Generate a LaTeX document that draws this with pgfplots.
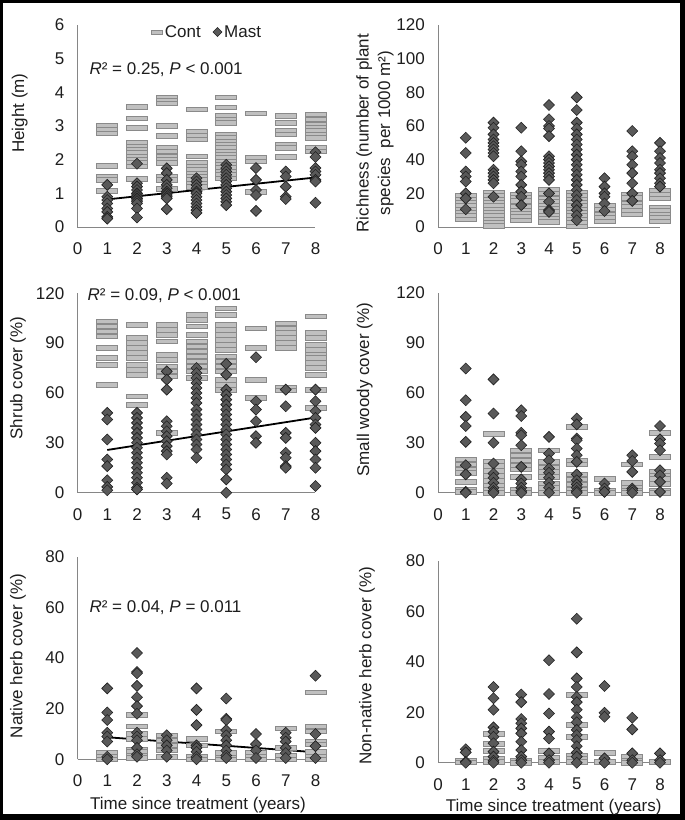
\documentclass[border=0pt]{standalone}
\usepackage{fontspec}
\setmainfont{Liberation Sans}
\usepackage{pgfplots}
\pgfplotsset{compat=1.18}
\definecolor{barfill}{HTML}{C0C0C0}
\definecolor{barline}{HTML}{8A8A8A}
\definecolor{dfill}{HTML}{595959}
\definecolor{dline}{HTML}{202020}
\definecolor{axisgray}{HTML}{868686}
\definecolor{txt}{HTML}{1E1E1E}
\newcommand\fs{\fontsize{17}{20}\selectfont}
\pgfdeclareplotmark{cbar}{\pgfpathrectangle{\pgfqpoint{-10.5pt}{-2.3pt}}{\pgfqpoint{21pt}{4.6pt}}\pgfusepathqfillstroke}
\pgfdeclareplotmark{mdia}{\pgfpathmoveto{\pgfqpoint{0pt}{5.5pt}}\pgfpathlineto{\pgfqpoint{5.5pt}{0pt}}\pgfpathlineto{\pgfqpoint{0pt}{-5.5pt}}\pgfpathlineto{\pgfqpoint{-5.5pt}{0pt}}\pgfpathclose\pgfusepathqfillstroke}
\pgfplotsset{
 panel/.style={scale only axis, xmin=0, xmax=8, ymin=0, clip=false,
   axis x line*=bottom, axis y line*=left,
   axis line style={draw=axisgray, line width=0.9pt, -},
   major tick length=0pt, xtick={0,...,8},
   tick label style={font=\fs, text=txt},
   xticklabel style={anchor=center, yshift=-21.5pt},
   yticklabel style={anchor=east, inner sep=0pt, xshift=-13pt},
   /pgf/number format/assume math mode=true,
   label style={font=\fs, text=txt},
   ylabel style={anchor=center}},
 cont/.style={only marks, mark=cbar, mark options={fill=barfill, draw=barline, line width=0.6pt}},
 mast/.style={only marks, mark=mdia, mark options={fill=dfill, draw=dline, line width=0.6pt}},
 trend/.style={black, line width=1.8pt, no markers, forget plot},
}
\begin{document}
\begin{tikzpicture}
\useasboundingbox (0,0) rectangle (685pt,820pt);
\fill[black] (0,0) rectangle (685pt,820pt);
\fill[white] (3pt,6pt) rectangle (680pt,817pt);

% Panel 1: Height
\begin{axis}[panel, at={(77.5pt,593pt)}, anchor=south west, width=238pt, height=202pt,
  ymax=6, ytick={0,...,6}, ylabel={Height (m)},
  ylabel style={at={(axis description cs:-0.243,0.564)}},
  legend style={at={(0.545,0.965)}, anchor=center, draw=none, fill=none, font=\fs, text=txt, legend columns=2,
    /tikz/every even column/.append style={column sep=10pt}, inner sep=0pt},
  legend entries={Cont,Mast}]
\addplot[cont, legend image code/.code={\draw[fill=barfill,draw=barline,line width=0.5pt] (0pt,-1.8pt) rectangle (11pt,1.8pt);}] coordinates {
(1,3.0)(1,2.88)(1,2.78)(1,1.82)(1,1.5)(1,1.4)(1,1.08)
(2,3.57)(2,3.23)(2,2.95)(2,2.5)(2,2.4)(2,2.3)(2,2.2)(2,2.1)(2,2.0)(2,1.9)(2,1.8)(2,1.43)
(3,3.85)(3,3.75)(3,3.68)(3,3.0)(3,2.7)(3,2.35)(3,2.25)(3,2.1)(3,2.0)(3,1.9)(3,1.5)(3,1.4)(3,1.13)
(4,3.5)(4,2.82)(4,2.7)(4,2.6)(4,2.1)(4,1.9)(4,1.8)(4,1.7)(4,1.6)(4,1.5)(4,1.4)(4,1.3)(4,1.2)
(5,3.85)(5,3.55)(5,3.3)(5,3.2)(5,3.1)(5,2.75)(5,2.65)(5,2.55)(5,2.45)(5,2.35)(5,2.25)(5,2.15)(5,2.05)(5,1.95)(5,1.85)(5,1.75)(5,1.65)(5,1.55)(5,1.45)
(6,3.38)(6,2.05)(6,1.95)(6,1.05)
(7,3.3)(7,3.1)(7,2.85)(7,2.75)(7,2.45)(7,2.35)(7,2.08)
(8,3.35)(8,3.2)(8,3.05)(8,2.95)(8,2.85)(8,2.75)(8,2.65)(8,2.35)(8,2.25)};
\addplot[mast, legend image code/.code={\draw[fill=dfill,draw=dline,line width=0.5pt] (5pt,4.5pt)--(9.5pt,0pt)--(5pt,-4.5pt)--(0.5pt,0pt)--cycle;}] coordinates {
(1,1.25)(1,0.9)(1,0.8)(1,0.7)(1,0.55)(1,0.45)(1,0.3)(1,0.25)
(2,1.88)(2,1.3)(2,1.2)(2,1.1)(2,1.0)(2,0.95)(2,0.9)(2,0.85)(2,0.8)(2,0.75)(2,0.7)(2,0.55)(2,0.28)
(3,1.74)(3,1.6)(3,1.4)(3,1.25)(3,1.15)(3,1.05)(3,1.0)(3,0.95)(3,0.9)(3,0.85)(3,0.53)
(4,1.45)(4,1.35)(4,1.25)(4,1.15)(4,1.05)(4,1.0)(4,0.9)(4,0.8)(4,0.7)(4,0.6)(4,0.5)(4,0.42)
(5,1.85)(5,1.75)(5,1.65)(5,1.55)(5,1.45)(5,1.35)(5,1.25)(5,1.15)(5,1.05)(5,0.95)(5,0.85)(5,0.75)(5,0.65)
(6,1.75)(6,1.4)(6,1.1)(6,0.95)(6,0.48)
(7,1.65)(7,1.5)(7,1.2)(7,0.9)(7,0.83)
(8,2.22)(8,2.08)(8,1.75)(8,1.65)(8,1.55)(8,1.4)(8,1.35)(8,0.72)};
\addplot[trend] coordinates {(1,0.82)(8,1.47)};
\node[anchor=west, font=\fs, text=txt, inner sep=0pt] at (rel axis cs:0.05,0.777) {\textit{R}² = 0.25, \textit{P} < 0.001};
\end{axis}

% Panel 2: Richness
\begin{axis}[panel, at={(438pt,593pt)}, anchor=south west, width=222pt, height=202pt,
  ymax=120, ytick={0,20,...,120}, ylabel={Richness (number of plant\\species\ \ per 1000 m²)},
  ylabel style={at={(axis description cs:-0.284,0.465)}, align=center, font=\fontsize{17}{21.7}\selectfont}]
\addplot[cont] coordinates {
(1,18.5)(1,16.5)(1,14.5)(1,12.5)(1,10.5)(1,8.5)(1,6.5)(1,4.5)
(2,20.5)(2,18.5)(2,16.5)(2,14.5)(2,12.5)(2,10.5)(2,8.5)(2,6.5)(2,4.5)(2,2.5)(2,0.8)
(3,19.5)(3,17.5)(3,15.5)(3,12)(3,10)(3,8)(3,6)(3,4)
(4,22)(4,20)(4,17)(4,15)(4,13)(4,11)(4,9)(4,7)(4,5)(4,3)
(5,20.5)(5,18.5)(5,16.5)(5,14.5)(5,12.5)(5,10.5)(5,8.5)(5,6.5)(5,4.5)(5,2.5)(5,0.5)
(6,12.5)(6,10.5)(6,7.5)(6,5.5)(6,3.5)
(7,19.5)(7,17.5)(7,14)(7,12)(7,9.5)(7,7.5)
(8,21.5)(8,19.5)(8,17)(8,11.5)(8,9.5)(8,7.5)(8,5.5)(8,3.5)};
\addplot[mast] coordinates {
(1,53)(1,44)(1,33)(1,30)(1,27)(1,20)(1,17)(1,10.5)
(2,62)(2,59)(2,55)(2,52)(2,50)(2,48)(2,46)(2,44)(2,42)(2,34)(2,32)(2,30)(2,28)(2,26)(2,18)
(3,59)(3,45)(3,39)(3,37)(3,33)(3,30)(3,25)(3,21)(3,18)(3,13)
(4,72.5)(4,64)(4,60)(4,58.5)(4,54)(4,42)(4,40)(4,38)(4,36)(4,34)(4,32)(4,30)(4,28)(4,20)(4,15)(4,10)(4,9)
(5,77)(5,69.5)(5,62)(5,58.5)(5,55)(5,52)(5,49)(5,46)(5,43)(5,40)(5,37)(5,34)(5,31)(5,28)(5,25)(5,22)(5,19)(5,16)(5,13)(5,10)(5,7)(5,4)
(6,29)(6,24)(6,20)(6,18)(6,14)(6,9.5)
(7,57)(7,45)(7,42)(7,37)(7,32)(7,26)(7,20)(7,15.5)
(8,50)(8,45)(8,41)(8,38)(8,34)(8,32)(8,29)(8,26)(8,24)};
\end{axis}

% Panel 3: Shrub cover
\begin{axis}[panel, at={(77.5pt,327.3pt)}, anchor=south west, width=238pt, height=199.5pt,
  ymax=120, ytick={0,30,...,120}, ylabel={Shrub cover (\%)},
  ylabel style={at={(axis description cs:-0.25,0.575)}}]
\addplot[cont] coordinates {
(1,103)(1,100)(1,97)(1,94)(1,87)(1,81)(1,77)(1,65)
(2,101)(2,93)(2,90)(2,87)(2,84)(2,81)(2,77)(2,74)(2,71)(2,58)(2,53)
(3,101)(3,98)(3,95)(3,91)(3,83)(3,80)(3,76)(3,73)(3,70)(3,36)
(4,107)(4,104)(4,100)(4,95)(4,91)(4,88)(4,85)(4,82)(4,79)(4,76)(4,73)(4,69)
(5,111)(5,107)(5,101)(5,98)(5,95)(5,92)(5,89)(5,86)(5,82)(5,79)(5,76)(5,73)(5,68)(5,65)(5,62)
(6,99)(6,87)(6,68)(6,57)
(7,102)(7,99)(7,96)(7,93)(7,90)(7,87)(7,63)(7,61.5)
(8,106)(8,96)(8,93)(8,89)(8,86)(8,83)(8,81)(8,78)(8,75)(8,71)(8,62)(8,51)};
\addplot[mast] coordinates {
(1,48)(1,44)(1,32)(1,20)(1,16)(1,7.5)(1,3.5)(1,1.5)
(2,48)(2,45)(2,42)(2,39)(2,36)(2,33)(2,30)(2,27)(2,24)(2,21)(2,18)(2,15)(2,12)(2,9)(2,6)(2,3)(2,2)
(3,73)(3,68)(3,62)(3,43)(3,40)(3,37)(3,34)(3,31)(3,28)(3,25)(3,23)(3,9)(3,5.5)
(4,75)(4,72)(4,69)(4,66)(4,63)(4,60)(4,57)(4,54)(4,50)(4,47)(4,44)(4,41)(4,38)(4,35)(4,32)(4,29)(4,26)(4,21)
(5,77.5)(5,71)(5,62)(5,59)(5,56)(5,53)(5,50)(5,47)(5,44)(5,41)(5,38)(5,35)(5,32)(5,29)(5,26)(5,23)(5,20)(5,17)(5,14)(5,8)(5,0)
(6,81.5)(6,55)(6,50)(6,43)(6,34)(6,30)
(7,62)(7,52)(7,36)(7,33)(7,24)(7,21)(7,16)(7,15)
(8,62)(8,55)(8,49)(8,45)(8,41)(8,39)(8,30)(8,25)(8,20)(8,15)(8,4)};
\addplot[trend] coordinates {(1,25.7)(8,45.2)};
\node[anchor=west, font=\fs, text=txt, inner sep=0pt] at (rel axis cs:0.042,0.986) {\textit{R}² = 0.09, \textit{P} < 0.001};
\end{axis}

% Panel 4: Small woody cover
\begin{axis}[panel, at={(438pt,327.3pt)}, anchor=south west, width=222pt, height=200pt,
  ymax=120, ytick={0,30,...,120}, ylabel={Small woody cover (\%)},
  ylabel style={at={(axis description cs:-0.33,0.515)}}]
\addplot[cont] coordinates {
(1,20)(1,17)(1,14)(1,12)(1,6.5)(1,2)(1,0.5)
(2,35.5)(2,18.5)(2,16)(2,13)(2,10)(2,7)(2,4)(2,2)(2,0)
(3,25.5)(3,22.5)(3,19.5)(3,16.5)(3,14)(3,9.5)(3,2)(3,0)
(4,25.5)(4,18.5)(4,15)(4,12.5)(4,9.5)(4,5.5)(4,3)(4,0)
(5,39.5)(5,19.5)(5,17)(5,11)(5,8)(5,5)(5,2)(5,0)
(6,8.5)(6,1)(6,0)
(7,17)(7,6)(7,3)(7,1)(7,0)
(8,36)(8,21.5)(8,12.5)(8,10)(8,8.5)(8,5.5)(8,1.5)(8,0)};
\addplot[mast] coordinates {
(1,74.5)(1,55.5)(1,45.5)(1,40)(1,30.5)(1,16.5)(1,11)(1,0.5)(1,0)
(2,68)(2,47.5)(2,30)(2,17.5)(2,11.5)(2,9)(2,6)(2,3)(2,1)(2,0)
(3,49.5)(3,46)(3,36)(3,34.5)(3,28.5)(3,15.5)(3,8)(3,5.5)(3,3)(3,1)(3,0)
(4,33.5)(4,23.5)(4,19.5)(4,14.5)(4,12)(4,9)(4,6)(4,3)(4,0)
(5,44.5)(5,41)(5,32.5)(5,31.5)(5,26.5)(5,22.5)(5,18.5)(5,11)(5,7.5)(5,5)(5,3)(5,1)(5,0)
(6,5.5)(6,2.5)(6,0.5)
(7,22.5)(7,19)(7,12.5)(7,2.5)(7,1.5)(7,0)
(8,40)(8,32)(8,29.5)(8,25.5)(8,13.5)(8,10.5)(8,6.5)(8,0.5)};
\end{axis}

% Panel 5: Native herb cover
\begin{axis}[panel, at={(77.5pt,60.7pt)}, anchor=south west, width=238pt, height=202.6pt,
  ymax=80, ytick={0,20,...,80}, ylabel={Native herb cover (\%)},
  ylabel style={at={(axis description cs:-0.25,0.51)}},
  xlabel={Time since treatment (years)},
  xlabel style={at={(axis description cs:0.506,-0.226)}, anchor=center}]
\addplot[cont] coordinates {
(1,2.5)(1,1)(1,0)
(2,17.5)(2,13)(2,10)(2,8)(2,4)(2,3)(2,1.5)(2,0.5)
(3,9.5)(3,7.5)(3,5.5)(3,3.5)(3,1)
(4,8)(4,5.5)(4,1)(4,0)
(5,11)(5,2.5)(5,0.5)(5,0)
(6,2.5)(6,1)(6,0)
(7,12.2)(7,4.5)(7,1.5)(7,0)
(8,26.5)(8,13)(8,11)(8,7)(8,6)(8,3)(8,1)(8,0)};
\addplot[mast] coordinates {
(1,28)(1,18.5)(1,15.5)(1,10.5)(1,9)(1,7)(1,1)(1,0)
(2,42)(2,34.5)(2,34)(2,29)(2,24.5)(2,21)(2,18)(2,10.5)(2,9)(2,7.5)(2,4.5)(2,2)(2,1)
(3,9.5)(3,7.5)(3,5.5)(3,3.5)(3,1)
(4,28)(4,19.5)(4,13.5)(4,5.5)(4,4.5)(4,3)(4,1)(4,0)
(5,24)(5,16)(5,15.5)(5,11.5)(5,9.5)(5,7.5)(5,5.5)(5,3.5)(5,1.5)(5,0.5)
(6,10)(6,6)(6,3.5)(6,0.5)
(7,10.5)(7,8.5)(7,7)(7,4.5)(7,2.5)(7,0.5)
(8,33)(8,10)(8,5.2)(8,0.5)};
\addplot[trend] coordinates {(1,8.7)(8,2.8)};
\node[anchor=west, font=\fs, text=txt, inner sep=0pt] at (rel axis cs:0.05,0.747) {\textit{R}² = 0.04, \textit{P} = 0.011};
\end{axis}

% Panel 6: Non-native herb cover
\begin{axis}[panel, at={(438pt,57.3pt)}, anchor=south west, width=222pt, height=202pt,
  ymax=80, ytick={0,20,...,80}, ylabel={Non-native herb cover (\%)},
  ylabel style={at={(axis description cs:-0.32,0.48)}},
  xlabel={Time since treatment (years)},
  xlabel style={at={(axis description cs:0.521,-0.219)}, anchor=center}]
\addplot[cont] coordinates {
(1,1)(1,0.2)
(2,11.5)(2,7.5)(2,4.7)(2,1.7)(2,0.4)
(3,1)(3,0)
(4,4.6)(4,2)(4,0.4)
(5,26.8)(5,15)(5,10.3)(5,3)(5,1.7)(5,0.4)
(6,4)(6,0.4)
(7,2.6)(7,1)(7,0)
(8,0.4)};
\addplot[mast] coordinates {
(1,5.3)(1,4.1)(1,0.4)(1,0)
(2,30)(2,25.5)(2,21)(2,14)(2,12.3)(2,10.3)(2,7.7)(2,4.4)(2,2.4)(2,0.8)(2,0)
(3,27)(3,24)(3,17.3)(3,15.6)(3,13.6)(3,11.6)(3,8.3)(3,5)(3,2.4)(3,1)(3,0)
(4,40.6)(4,27.2)(4,19.5)(4,12.3)(4,9.6)(4,3.7)(4,1)(4,0)
(5,57)(5,43.7)(5,33.4)(5,30)(5,26)(5,24)(5,21)(5,18)(5,16)(5,13)(5,11)(5,9)(5,6.5)(5,4)(5,2.4)(5,0)
(6,30.4)(6,19.8)(6,18.2)(6,1.7)(6,0)
(7,17.8)(7,13.2)(7,3.7)(7,1)(7,0)
(8,3.7)(8,1)(8,0)};
\end{axis}
\end{tikzpicture}
\end{document}
